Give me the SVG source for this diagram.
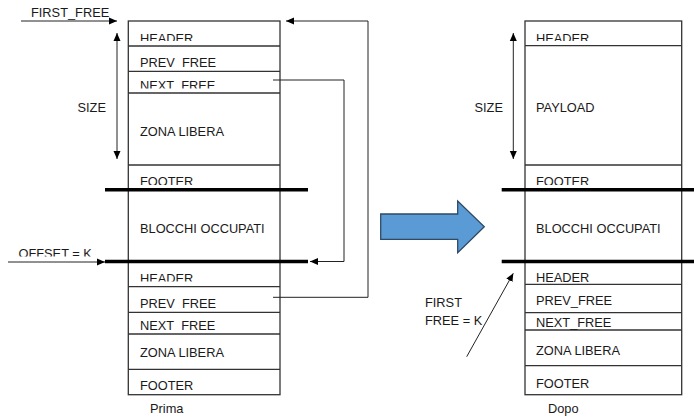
<svg xmlns="http://www.w3.org/2000/svg" width="694" height="417" viewBox="0 0 694 417">
  <style>
    text { font-family: "Liberation Sans", Arial, sans-serif; font-size: 12.8px; fill: #1a1a1a; }
    .box { fill: #fff; stroke: #333; stroke-width: 1.3; }
    .row { stroke: #333; stroke-width: 1.3; }
    .bar { stroke: #000; stroke-width: 3.5; }
    .wire { fill: none; stroke: #222; stroke-width: 1; }
  </style>
  <defs>
    <marker id="tip" viewBox="0 0 8 8" refX="8" refY="4" markerWidth="8" markerHeight="8" markerUnits="userSpaceOnUse" orient="auto-start-reverse">
      <path d="M0,0.5 L8,4 L0,7.5 z" fill="#000"/>
    </marker>
    <!-- labels whose lower edge is cut by the row box -->
    <clipPath id="cL1"><rect x="128" y="22" width="152" height="19"/></clipPath>
    <clipPath id="cL2"><rect x="128" y="47" width="152" height="21.5"/></clipPath>
    <clipPath id="cL3"><rect x="128" y="72" width="152" height="16.5"/></clipPath>
    <clipPath id="cL4"><rect x="128" y="166" width="152" height="19"/></clipPath>
    <clipPath id="cL5"><rect x="128" y="263" width="152" height="18.5"/></clipPath>
    <clipPath id="cL6"><rect x="128" y="288" width="152" height="21"/></clipPath>
    <clipPath id="cL7"><rect x="128" y="313" width="152" height="18"/></clipPath>
    <clipPath id="cOff"><rect x="0" y="240" width="100" height="16.5"/></clipPath>
    <clipPath id="cR1"><rect x="525" y="22" width="157" height="19"/></clipPath>
    <clipPath id="cR2"><rect x="525" y="166" width="157" height="19"/></clipPath>
  </defs>

  <!-- block list before the allocation -->
  <g id="before">
    <rect class="box" x="128.3" y="21" width="151.7" height="373.7"/>
    <line class="row" x1="128.3" y1="46" x2="280" y2="46"/>
    <line class="row" x1="128.3" y1="71.3" x2="280" y2="71.3"/>
    <line class="row" x1="128.3" y1="93" x2="280" y2="93"/>
    <line class="row" x1="128.3" y1="165" x2="280" y2="165"/>
    <line class="row" x1="128.3" y1="286.7" x2="280" y2="286.7"/>
    <line class="row" x1="128.3" y1="312.3" x2="280" y2="312.3"/>
    <line class="row" x1="128.3" y1="334" x2="280" y2="334"/>
    <line class="row" x1="128.3" y1="369.3" x2="280" y2="369.3"/>
    <line class="bar" x1="105" y1="189.7" x2="308" y2="189.7"/>
    <line class="bar" x1="105" y1="261.5" x2="308" y2="261.5"/>
    <text x="140" y="42.5" clip-path="url(#cL1)">HEADER</text>
    <text x="140" y="67.3" clip-path="url(#cL2)">PREV_FREE</text>
    <text x="140" y="89.5" clip-path="url(#cL3)">NEXT_FREE</text>
    <text x="140" y="136">ZONA LIBERA</text>
    <text x="140" y="186" clip-path="url(#cL4)">FOOTER</text>
    <text x="140" y="232.5">BLOCCHI OCCUPATI</text>
    <text x="140" y="282.5" clip-path="url(#cL5)">HEADER</text>
    <text x="140" y="308.3" clip-path="url(#cL6)">PREV_FREE</text>
    <text x="140" y="330" clip-path="url(#cL7)">NEXT_FREE</text>
    <text x="140" y="356.7">ZONA LIBERA</text>
    <text x="140" y="390">FOOTER</text>
    <text x="150" y="412.5">Prima</text>
    <text x="77.5" y="112">SIZE</text>
    <text x="31" y="17">FIRST_FREE</text>
    <text x="18.5" y="257.5" clip-path="url(#cOff)">OFFSET = K</text>
  </g>

  <!-- block list after the allocation -->
  <g id="after">
    <rect class="box" x="525" y="21" width="156.7" height="373.7"/>
    <line class="row" x1="525" y1="45.7" x2="681.7" y2="45.7"/>
    <line class="row" x1="525" y1="165" x2="681.7" y2="165"/>
    <line class="row" x1="525" y1="284.3" x2="681.7" y2="284.3"/>
    <line class="row" x1="525" y1="312.7" x2="681.7" y2="312.7"/>
    <line class="row" x1="525" y1="330" x2="681.7" y2="330"/>
    <line class="row" x1="525" y1="365.7" x2="681.7" y2="365.7"/>
    <line class="bar" x1="501.7" y1="189.7" x2="694" y2="189.7"/>
    <line class="bar" x1="501.7" y1="261.5" x2="694" y2="261.5"/>
    <text x="536" y="42.5" clip-path="url(#cR1)">HEADER</text>
    <text x="536" y="112">PAYLOAD</text>
    <text x="536" y="186" clip-path="url(#cR2)">FOOTER</text>
    <text x="536" y="233">BLOCCHI OCCUPATI</text>
    <text x="536" y="281.7">HEADER</text>
    <text x="536" y="305">PREV_FREE</text>
    <text x="536" y="327.3">NEXT_FREE</text>
    <text x="536" y="355">ZONA LIBERA</text>
    <text x="536" y="388">FOOTER</text>
    <text x="548" y="412.5">Dopo</text>
    <text x="474.5" y="112">SIZE</text>
    <text x="425" y="306.7">FIRST</text>
    <text x="425" y="325">FREE = K</text>
  </g>

  <!-- transition arrow -->
  <g id="transition">
    <path d="M380.7,214 L457.7,214 L457.7,201 L484.3,226.7 L457.7,252.7 L457.7,239.3 L380.7,239.3 z" fill="#5b9bd5" stroke="#2e4a66" stroke-width="1.3"/>
  </g>

  <g id="connectors">
    <line class="wire" x1="21" y1="21" x2="117" y2="21" marker-end="url(#tip)"/>
    <line class="wire" x1="117" y1="33" x2="117" y2="159" marker-start="url(#tip)" marker-end="url(#tip)"/>
    <polyline class="wire" points="273,80 344,80 344,261.5 310,261.5" marker-end="url(#tip)"/>
    <polyline class="wire" points="273,297.3 368,297.3 368,21 286,21" marker-end="url(#tip)"/>
    <line class="wire" x1="8" y1="262" x2="105" y2="262" marker-end="url(#tip)"/>
    <line class="wire" x1="513.3" y1="33" x2="513.3" y2="159" marker-start="url(#tip)" marker-end="url(#tip)"/>
    <line class="wire" x1="466.7" y1="356.7" x2="513.3" y2="273.3" marker-end="url(#tip)"/>
  </g>
</svg>
